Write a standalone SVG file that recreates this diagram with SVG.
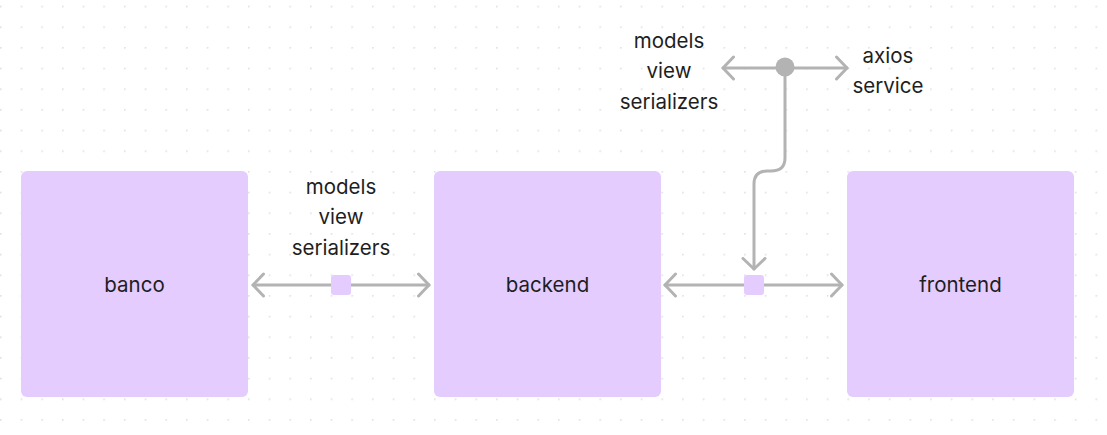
<svg xmlns="http://www.w3.org/2000/svg" width="1107" height="435" viewBox="0 0 1107 435">
<defs>
<pattern id="dots" x="0" y="5.7" width="20.67" height="20.67" patternUnits="userSpaceOnUse">
<circle cx="0.7" cy="0.7" r="1" fill="#e0e0e0"/>
</pattern>
<marker id="arr" viewBox="0 0 14 26" refX="12" refY="13" markerWidth="14" markerHeight="26" markerUnits="userSpaceOnUse" orient="auto-start-reverse">
<path d="M1.5 2 L12 13 L1.5 24" fill="none" stroke="#b3b3b3" stroke-width="3" stroke-linecap="round" stroke-linejoin="round"/>
</marker>
<style>
.node{fill:#e4ccff}
.lbl{font-family:Inter,"Liberation Sans",sans-serif;font-size:20.5px;fill:#1e1e1e;text-anchor:middle}
.edge{fill:none;stroke:#b3b3b3;stroke-width:3;stroke-linecap:round}
</style>
</defs>
<rect width="1107" height="435" fill="#ffffff"/>
<rect width="1107" height="435" fill="url(#dots)"/>
<g id="connectors">
<path class="edge" d="M253 285 H429" marker-start="url(#arr)" marker-end="url(#arr)"/>
<rect x="331" y="275" width="20" height="20" rx="3" fill="#e4ccff"/>
<path class="edge" d="M665 285 H842" marker-start="url(#arr)" marker-end="url(#arr)"/>
<rect x="744" y="275" width="20" height="20" rx="3" fill="#e4ccff"/>
<path class="edge" d="M785 68 V158 Q785 171 771 171 H767 Q754 171 754 184 V269" marker-end="url(#arr)"/>
<path class="edge" d="M723 68 H847" marker-start="url(#arr)" marker-end="url(#arr)"/>
<circle cx="785" cy="67" r="9.5" fill="#b3b3b3"/>
<text class="lbl" x="341" y="194">models</text>
<text class="lbl" x="341" y="224">view</text>
<text class="lbl" x="341" y="255">serializers</text>
<text class="lbl" x="669" y="48">models</text>
<text class="lbl" x="669" y="78">view</text>
<text class="lbl" x="669" y="109">serializers</text>
<text class="lbl" x="888" y="63">axios</text>
<text class="lbl" x="888" y="93">service</text>
</g>
<g id="banco">
<rect class="node" x="21" y="171" width="227" height="226" rx="6"/>
<text class="lbl" x="134.5" y="292">banco</text>
</g>
<g id="backend">
<rect class="node" x="434" y="171" width="227" height="226" rx="6"/>
<text class="lbl" x="547.5" y="292">backend</text>
</g>
<g id="frontend">
<rect class="node" x="847" y="171" width="227" height="226" rx="6"/>
<text class="lbl" x="960.5" y="292">frontend</text>
</g>
</svg>
